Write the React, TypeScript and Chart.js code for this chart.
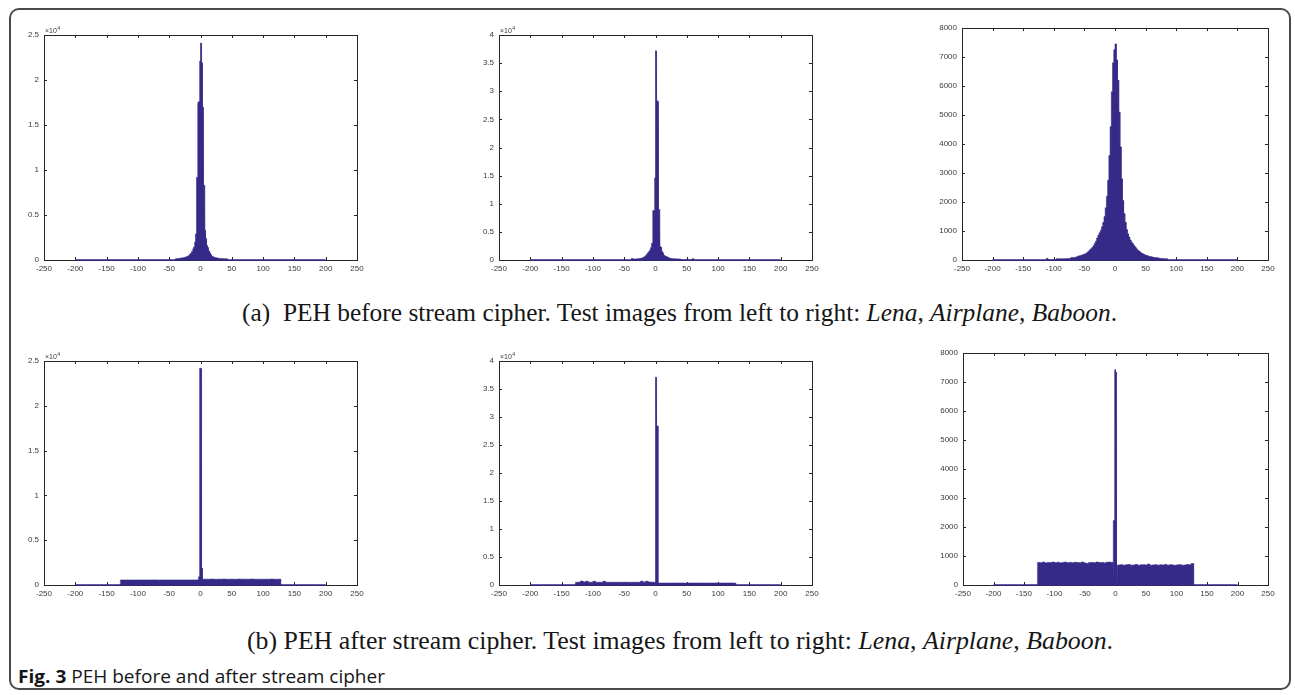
import React, { useEffect, useLayoutEffect, useRef } from 'react';
import { Chart, registerables } from 'chart.js';

Chart.register(...registerables);
Chart.defaults.font.family = '"Liberation Sans", Arial, Helvetica, sans-serif';

// ---------- tick labels ----------
const xTickValues = [-250, -200, -150, -100, -50, 0, 50, 100, 150, 200, 250];
const yTicksLena = [0, 5000, 10000, 15000, 20000, 25000];
const yTicksAirplane = [0, 5000, 10000, 15000, 20000, 25000, 30000, 35000, 40000];
const yTicksBaboon = [0, 1000, 2000, 3000, 4000, 5000, 6000, 7000, 8000];
const baselineRange = [-200, 200];

// ---------- (a) before stream cipher ----------
const lenaBeforeStart = -40; // bin width 1
const lenaBefore = [
  150, 155, 160, 165, 170, 180, 190, 200, 210, 220, 230, 240, 255, 270, 285,
  305, 325, 350, 380, 410, 450, 510, 580, 660, 740, 840, 950, 1080, 1250, 1450, 1700, 2000,
  2900, 4300, 9200, 9200, 17500, 17600, 22000, 22100, 24100, 22000, 21900,
  17000, 16500, 8300, 4300, 3300, 2400, 1900, 1600, 1400, 1200, 1000, 880, 750, 600, 500,
  430, 380, 340, 310, 290, 270, 250, 235, 220, 210, 200, 190, 185, 180, 175,
  170, 165, 160, 155, 150, 145, 140, 135, 132, 130,
];

const airplaneBeforeStart = -40; // bin width 1
const airplaneBefore = [
  0, 0, 300, 150, 160, 170, 180, 185, 190, 200,
  210, 220, 230, 245, 260, 280, 300, 330, 360, 400, 450, 520, 590, 680, 780, 900, 1070, 1200, 1350, 1500, 1650, 1800,
  2200, 2700, 3000, 3900, 8800, 8700, 14500, 14600, 37200, 37100, 28300, 28200, 9200, 9000, 5300, 2400, 2300, 1800,
  1500, 1300, 1000, 880, 780, 700, 640, 600, 560, 500, 450, 400, 350, 310, 280, 260, 250, 240, 230, 225, 220, 215,
  210, 205, 200, 200, 195, 190, 185, 180, 0,
];
const airplaneOutlierStart = 59; // bin width 2
const airplaneOutlier = [240];

const baboonBeforeStart = -112; // bin width 2
const baboonBefore = [
  60, 0, 0, 0, 0, 0, 0, 0,
  45, 42, 42, 43, 44, 44, 45, 46, 46, 48, 52, 60,
  85, 88, 90, 92, 100, 130, 140, 150, 165, 175, 195, 210,
  230, 270, 300, 350, 390, 430, 490, 570, 650, 760, 860, 940,
  1030, 1150, 1300, 1500, 1800, 2200, 2750, 3600, 4600, 5800, 6800, 7250,
  7450, 6900, 6200, 5100, 3900, 2800, 2050, 1600, 1300, 1050,
  900, 790, 690, 610, 560, 500, 450, 390, 340, 310,
  280, 240, 220, 195, 175, 160, 150, 130, 120, 110,
  100, 92, 85, 80, 75, 70, 62, 55, 50, 46, 44, 42, 40,
];

// ---------- (b) after stream cipher ----------
const lenaAfterLeft = [560, 555, 565, 550, 560, 545, 565, 555, 560, 550, 565, 560, 555, 570, 560, 550, 565, 560, 555, 560, 565, 555, 560, 550, 565, 560, 555, 560, 565, 560, 570];
const lenaAfterCenter = [560, 930, 22200, 24180, 24180, 1860, 1860, 650];
const lenaAfterRight = [650, 655, 645, 660, 650, 640, 655, 650, 660, 645, 650, 655, 650, 640, 660, 650, 655, 645, 650, 660, 650, 655, 645, 650, 640, 655, 650, 660, 650, 645, 655];

const airplaneAfterLeft = [480, 500, 700, 520, 680, 500, 490, 650, 490, 500, 480, 660, 490, 480, 500, 490, 480, 500, 490, 480, 500, 490, 480, 500, 490, 480, 680, 500, 660, 520, 500];
const airplaneAfterCenter = [500, 500, 500, 500, 37100, 37100, 28400, 28400];
const airplaneAfterRight = [350, 340, 355, 345, 350, 340, 350, 360, 345, 350, 340, 355, 350, 345, 350, 340, 350, 355, 345, 350, 340, 350, 345, 360, 350, 340, 350, 345, 355, 350, 340];

const baboonAfterLeft = [780, 770, 790, 760, 780, 775, 790, 770, 785, 760, 780, 790, 770, 780, 765, 785, 775, 770, 790, 760, 740, 775, 780, 770, 790, 775, 780, 760, 785, 790, 780];
const baboonAfterCenter = [2220, 2220, 7420, 7420, 7340, 7340, 690, 690];
const baboonAfterRight = [690, 700, 680, 695, 705, 685, 690, 710, 680, 695, 700, 690, 720, 685, 690, 700, 680, 695, 690, 705, 685, 700, 690, 680, 695, 700, 685, 690, 710, 695, 740];

const afterLeftStart = -128; // bin width 4
const afterCenterStart = -4; // bin width 1
const afterRightStart = 4; // bin width 4

// ---------- styling ----------
const HIST = '#352A87';
const AXIS = '#262626';
const TICK_COLOR = '#3a3a3a';
const PAD_L = 40; // y axis width
const PAD_R = 14;
const PAD_T = 14;
const AXIS_H = 18;

type Segment = { start: number; width: number; values: number[] };
type PlotCfg = {
  left: number; top: number; right: number; bottom: number;
  yMax: number; yTicks: number[]; exp: boolean; segments: Segment[];
};

const plots: PlotCfg[] = [
  { left: 44, top: 35, right: 357, bottom: 260, yMax: 25000, yTicks: yTicksLena, exp: true,
    segments: [{ start: lenaBeforeStart, width: 1, values: lenaBefore }] },
  { left: 499, top: 35, right: 812, bottom: 260, yMax: 40000, yTicks: yTicksAirplane, exp: true,
    segments: [{ start: airplaneBeforeStart, width: 1, values: airplaneBefore }, { start: airplaneOutlierStart, width: 2, values: airplaneOutlier }] },
  { left: 962, top: 28, right: 1268, bottom: 260, yMax: 8000, yTicks: yTicksBaboon, exp: false,
    segments: [{ start: baboonBeforeStart, width: 2, values: baboonBefore }] },
  { left: 44, top: 361, right: 357, bottom: 585, yMax: 25000, yTicks: yTicksLena, exp: true,
    segments: [
      { start: afterLeftStart, width: 4, values: lenaAfterLeft },
      { start: afterCenterStart, width: 1, values: lenaAfterCenter },
      { start: afterRightStart, width: 4, values: lenaAfterRight },
    ] },
  { left: 499, top: 361, right: 812, bottom: 585, yMax: 40000, yTicks: yTicksAirplane, exp: true,
    segments: [
      { start: afterLeftStart, width: 4, values: airplaneAfterLeft },
      { start: afterCenterStart, width: 1, values: airplaneAfterCenter },
      { start: afterRightStart, width: 4, values: airplaneAfterRight },
    ] },
  { left: 963, top: 353, right: 1268, bottom: 585, yMax: 8000, yTicks: yTicksBaboon, exp: false,
    segments: [
      { start: afterLeftStart, width: 4, values: baboonAfterLeft },
      { start: afterCenterStart, width: 1, values: baboonAfterCenter },
      { start: afterRightStart, width: 4, values: baboonAfterRight },
    ] },
];

function buildPoints(segments: Segment[]) {
  const pts: { x: number; y: number }[] = [];
  for (const s of segments) {
    pts.push({ x: s.start, y: 0 });
    s.values.forEach((v, i) => {
      const l = s.start + i * s.width;
      pts.push({ x: l, y: v }, { x: l + s.width, y: v });
    });
    pts.push({ x: s.start + s.values.length * s.width, y: 0 });
  }
  return pts;
}

const boxPlugin = {
  id: 'matlabBox',
  beforeDatasetsDraw(chart: any, _args: any, opts: any) {
    const { ctx, chartArea: a, scales } = chart;
    ctx.save();
    ctx.strokeStyle = AXIS;
    ctx.lineWidth = 1;
    ctx.strokeRect(a.left + 0.5, a.top + 0.5, a.right - a.left, a.bottom - a.top);
    const tl = 3;
    ctx.beginPath();
    for (const v of xTickValues) {
      const px = Math.round(scales.x.getPixelForValue(v)) + 0.5;
      ctx.moveTo(px, a.bottom); ctx.lineTo(px, a.bottom - tl);
      ctx.moveTo(px, a.top); ctx.lineTo(px, a.top + tl);
    }
    for (const v of opts.yTicks) {
      const py = Math.round(scales.y.getPixelForValue(v)) + 0.5;
      ctx.moveTo(a.left, py); ctx.lineTo(a.left + tl, py);
      ctx.moveTo(a.right, py); ctx.lineTo(a.right - tl, py);
    }
    ctx.stroke();
    if (opts.exp) {
      ctx.fillStyle = TICK_COLOR;
      ctx.textBaseline = 'alphabetic';
      ctx.textAlign = 'left';
      ctx.font = '7px "Liberation Sans", Arial, sans-serif';
      const t = '\u00d710';
      ctx.fillText(t, a.left + 1, a.top - 2);
      const w = ctx.measureText(t).width;
      ctx.font = '5px "Liberation Sans", Arial, sans-serif';
      ctx.fillText('4', a.left + 1.5 + w, a.top - 5);
    }
    ctx.restore();
  },
};

function HistChart({ cfg }: { cfg: PlotCfg }) {
  const ref = useRef<HTMLCanvasElement>(null);
  const w = cfg.right - cfg.left + PAD_L + PAD_R;
  const h = cfg.bottom - cfg.top + PAD_T + AXIS_H;
  useEffect(() => {
    const chart = new Chart(ref.current as HTMLCanvasElement, {
      type: 'line',
      data: {
        datasets: [
          {
            data: buildPoints(cfg.segments),
            borderColor: HIST,
            backgroundColor: HIST,
            borderWidth: 0.6,
            fill: 'origin',
            pointRadius: 0,
            tension: 0,
          },
          {
            data: baselineRange.map((x) => ({ x, y: 0 })),
            borderColor: HIST,
            borderWidth: 1.5,
            fill: false,
            pointRadius: 0,
            clip: false,
          } as any,
        ],
      },
      options: {
        animation: false,
        responsive: false,
        devicePixelRatio: 1,
        events: [],
        layout: { padding: { left: 0, right: PAD_R, top: PAD_T, bottom: 0 } },
        plugins: {
          legend: { display: false },
          tooltip: { enabled: false },
          matlabBox: { exp: cfg.exp, yTicks: cfg.yTicks },
        } as any,
        scales: {
          x: {
            type: 'linear',
            min: -250,
            max: 250,
            grid: { display: false, drawTicks: false },
            border: { display: false },
            afterBuildTicks: (s: any) => { s.ticks = xTickValues.map((v) => ({ value: v })); },
            afterFit: (s: any) => { s.height = AXIS_H; },
            ticks: {
              padding: 4,
              color: TICK_COLOR,
              font: { size: 8 },
              maxRotation: 0,
              autoSkip: false,
              callback: (v: any) => String(v),
            },
          },
          y: {
            type: 'linear',
            min: 0,
            max: cfg.yMax,
            grid: { display: false, drawTicks: false },
            border: { display: false },
            afterBuildTicks: (s: any) => { s.ticks = cfg.yTicks.map((v) => ({ value: v })); },
            afterFit: (s: any) => { s.width = PAD_L; },
            ticks: {
              padding: 5,
              color: TICK_COLOR,
              font: { size: 8 },
              autoSkip: false,
              callback: (v: any) => (cfg.exp ? String(Number(v) / 10000) : String(v)),
            },
          },
        },
      },
      plugins: [boxPlugin],
    });
    return () => chart.destroy();
  }, []);
  return (
    <canvas
      ref={ref}
      width={w}
      height={h}
      style={{ position: 'absolute', left: cfg.left - PAD_L, top: cfg.top - PAD_T, width: w, height: h }}
    />
  );
}

function FitText(props: {
  left: number; right: number; centerY: number; fontSize: number; fontFamily: string; k: number; children: React.ReactNode;
}) {
  const ref = useRef<HTMLDivElement>(null);
  useLayoutEffect(() => {
    const el = ref.current as HTMLDivElement;
    const fit = () => {
      el.style.transform = 'none';
      const w = el.getBoundingClientRect().width;
      if (w > 0) el.style.transform = `scaleX(${(props.right - props.left) / w})`;
    };
    fit();
    (document as any).fonts?.ready?.then(fit);
  }, []);
  return (
    <div
      ref={ref}
      style={{
        position: 'absolute',
        left: props.left,
        top: props.centerY - props.k * props.fontSize,
        whiteSpace: 'nowrap',
        fontSize: props.fontSize,
        lineHeight: props.fontSize + 'px',
        fontFamily: props.fontFamily,
        transformOrigin: 'left center',
        color: '#161616',
      }}
    >
      {props.children}
    </div>
  );
}

const SERIF = '"Liberation Serif", "Times New Roman", serif';
const SANS = '"Open Sans", "Noto Sans", sans-serif';

export default function App() {
  return (
    <div style={{ position: 'absolute', left: 0, top: 0, width: 1295, height: 695, background: '#fff', overflow: 'hidden' }}>
      <div
        style={{
          position: 'absolute', left: 9, top: 8, width: 1282, height: 682,
          border: '2px solid #4a4a4a', borderRadius: 10, boxSizing: 'border-box',
        }}
      />
      {plots.map((p, i) => (
        <HistChart key={i} cfg={p} />
      ))}
      <FitText left={242} right={1117} centerY={313} fontSize={25} fontFamily={SERIF} k={0.507}>
        (a)&nbsp; PEH before stream cipher. Test images from left to right: <i>Lena</i>, <i>Airplane</i>, <i>Baboon</i>.
      </FitText>
      <FitText left={247} right={1113} centerY={641} fontSize={25} fontFamily={SERIF} k={0.507}>
        (b) PEH after stream cipher. Test images from left to right: <i>Lena</i>, <i>Airplane</i>, <i>Baboon</i>.
      </FitText>
      <FitText left={18} right={385} centerY={677} fontSize={18} fontFamily={SANS} k={0.531}>
        <b>Fig. 3</b> PEH before and after stream cipher
      </FitText>
    </div>
  );
}
